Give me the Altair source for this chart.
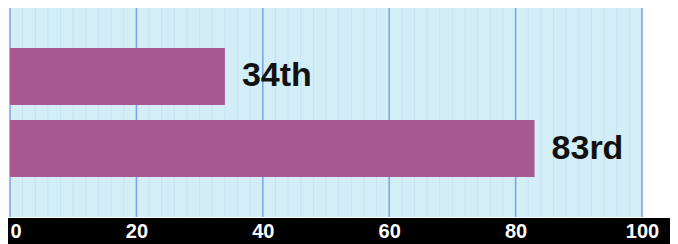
import altair as alt
import pandas as pd

categories = ["A", "B"]
values = [34, 83]
labels = ["34th", "83rd"]
major_ticks = [0, 20, 40, 60, 80, 100]
minor_ticks = [v for v in range(0, 101, 2) if v % 20 != 0]

df = pd.DataFrame({"cat": categories, "value": values, "label": labels})
major_df = pd.DataFrame({"v": major_ticks})
minor_df = pd.DataFrame({"v": minor_ticks})

xscale = alt.Scale(domain=[0, 100], nice=False, padding=0)
yscale = alt.Scale(domain=categories, paddingInner=0.208, paddingOuter=0.555)

xaxis = alt.Axis(
    values=major_ticks,
    title=None,
    grid=False,
    domain=False,
    ticks=False,
    labelColor="white",
    labelFont="Liberation Sans",
    labelFontSize=20,
    labelFontWeight="bold",
    labelPadding=4,
    labelFlush=False,
    labelAlign={"condition": {"test": "datum.value == 0", "value": "left"}, "value": "center"},
    zindex=2,
)

minor = alt.Chart(minor_df).mark_rule(color="#c6e3f1", strokeWidth=1).encode(
    x=alt.X("v:Q", scale=xscale, axis=xaxis, title=None)
)
major = alt.Chart(major_df).mark_rule(color="#78a2e6", strokeWidth=1.5).encode(
    x=alt.X("v:Q", scale=xscale, axis=xaxis, title=None)
)

bars = alt.Chart(df).mark_bar(color="#a85893").encode(
    x=alt.X("value:Q", scale=xscale, axis=xaxis, title=None),
    y=alt.Y("cat:N", scale=yscale, axis=None),
)

text = alt.Chart(df).mark_text(
    align="left",
    baseline="middle",
    dx=17,
    font="Liberation Sans",
    fontSize=34,
    fontWeight="bold",
    color="#111111",
).encode(
    x=alt.X("value:Q", scale=xscale, axis=xaxis, title=None),
    y=alt.Y("cat:N", scale=yscale, axis=None),
    text="label:N",
)

band = alt.Chart(df).mark_rect(color="black").encode(
    x=alt.value(-2), x2=alt.value(670), y=alt.value(210), y2=alt.value(240)
)

chart = alt.layer(minor, major, bars, text, band).properties(
    width=632,
    height=209,
    autosize=alt.AutoSizeParams(type="none"),
    padding={"left": 2, "top": 0, "right": 28, "bottom": 27},
    background="white",
).configure_view(stroke=None, fill="#d4eef8")

chart.save("out.html", embed_options={"renderer": "svg", "actions": False})
